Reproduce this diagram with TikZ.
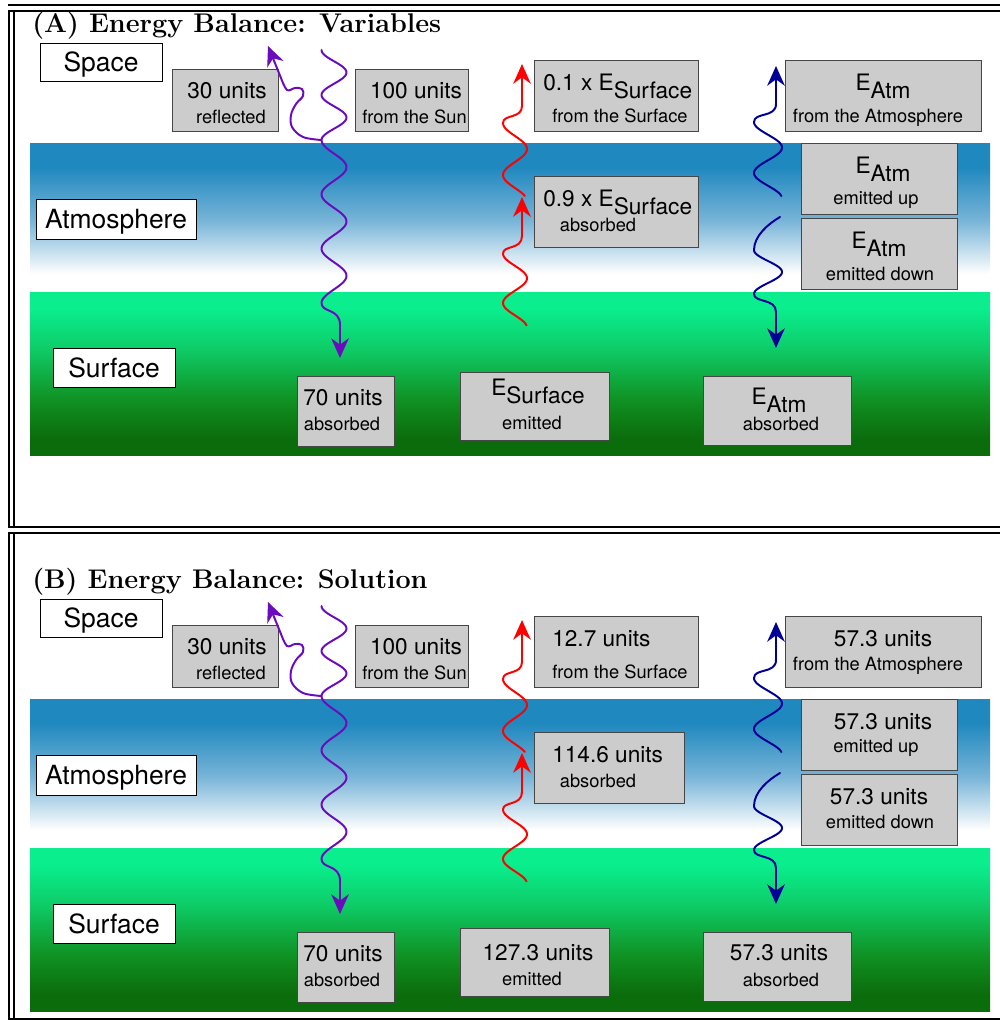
\documentclass[tikz,border=0pt]{standalone}
\usepackage{fontspec}
\newfontfamily\hv{TeX Gyre Heros}
\usetikzlibrary{arrows.meta}
\definecolor{atmtop}{RGB}{31,136,191}
\definecolor{atmmid}{RGB}{120,180,215}
\definecolor{gndtop}{RGB}{10,238,142}
\definecolor{gndhi}{RGB}{14,205,105}
\definecolor{gndlo}{RGB}{16,145,35}
\definecolor{gndbot}{RGB}{11,108,11}
\definecolor{boxgray}{RGB}{204,204,204}
\definecolor{boxedge}{RGB}{70,70,70}
\definecolor{sunray}{RGB}{106,12,190}
\definecolor{atmray}{RGB}{0,0,150}
\pgfdeclareverticalshading{atmo}{100bp}{color(0bp)=(white); color(31bp)=(white); color(49bp)=(atmmid); color(67bp)=(atmtop); color(100bp)=(atmtop)}
\pgfdeclareverticalshading{ground}{100bp}{color(0bp)=(gndbot); color(30bp)=(gndbot); color(42bp)=(gndlo); color(58bp)=(gndhi); color(70bp)=(gndtop); color(100bp)=(gndtop)}
\newcommand\Esub[1]{E\raisebox{-6pt}{#1}}
\tikzset{
  frame/.style={line width=1.2pt},
  ray/.style={line width=1.4pt, line cap=round, line join=round, -{Stealth[length=14pt,width=12.5pt,inset=4.5pt]}},
  namebox/.style 2 args={draw, fill=white, line width=0.7pt, inner sep=0pt, text depth=0pt,
    minimum width=#1*0.025cm, minimum height=#2*0.025cm, font=\hv\fontsize{18.8}{22}\selectfont},
  gbox/.style 2 args={draw=boxedge, fill=boxgray, line width=0.7pt, inner sep=0pt,
    minimum width=#1*0.025cm, minimum height=#2*0.025cm},
  big/.style={font=\hv\fontsize{16.1}{19}\selectfont, anchor=base, inner sep=0pt},
  small/.style={font=\hv\fontsize{13}{15}\selectfont, anchor=base, inner sep=0pt},
  ttl/.style={font=\fontsize{19.2}{22}\selectfont\bfseries, anchor=base west, inner sep=0pt}
}
\begin{document}
\begin{tikzpicture}[x=0.025cm,y=-0.025cm]
\useasboundingbox (0,0) rectangle (1000,1020);
% table frame
\foreach \y in {5,11,527,533,1019} \draw[frame] (8,\y) -- (1000,\y);
\foreach \x in {9,14} {
  \draw[frame] (\x,11) -- (\x,527);
  \draw[frame] (\x,533) -- (\x,1019);
}
\foreach \pn/\oy/\ttl/\bw/\lx/\ad/\eb/\sfup/\sfabs/\sfem/\atm in
  {A/0/{(A) Energy Balance: Variables}/164/543/0/395/{0.1 x \Esub{Surface}}/{0.9 x \Esub{Surface}}/{\Esub{Surface}}/{\Esub{Atm}},
   B/556/{(B) Energy Balance: Solution}/150/552/-8/404/{12.7 units}/{114.6 units}/{127.3 units}/{57.3 units}}{
\begin{scope}[shift={(0,\oy)}]
  \shade[shading=atmo] (30,143) rectangle (990,292);
  \shade[shading=ground] (30,292) rectangle (990,455);
  \node[ttl] (title\pn) at (32,32) {\ttl};
  % layers
  \node[namebox={122}{38}] (space\pn) at (101,62) {Space};
  \node[namebox={160}{40}] (atmos\pn) at (116,219) {Atmosphere};
  \node[namebox={122}{39}] (surf\pn) at (114,367.5) {Surface};
  % solar boxes
  \node[gbox={106}{62}] (refl\pn) at (225,100) {};
  \node[big] (refl\pn-a) at (227,98) {30 units};
  \node[small] (refl\pn-b) at (231,123) {reflected};
  \node[gbox={113}{62}] (sun\pn) at (411.5,100) {};
  \node[big] (sun\pn-a) at (416,98) {100 units};
  \node[small] (sun\pn-b) at (414.5,123) {from the Sun};
  \node[gbox={97}{70}] (abs\pn) at (345.5,411) {};
  \node[big] (abs\pn-a) at (343,405) {70 units};
  \node[small] (abs\pn-b) at (342,430) {absorbed};
  % surface boxes
  \node[gbox={164}{71}] (sfup\pn) at (616,95.5) {};
  \node[big,anchor=base west] (sfup\pn-a) at (\lx,90) {\sfup};
  \node[small] (sfup\pn-b) at (620,122) {from the Surface};
  \node[gbox={\bw}{71}] (sfabs\pn) at ({534+\bw/2},211.5) {};
  \node[big,anchor=base west] (sfabs\pn-a) at (\lx,206) {\sfabs};
  \node[small] (sfabs\pn-b) at (598,231) {absorbed};
  \node[gbox={149}{68}] (sfem\pn) at (534.5,406) {};
  \node[big] (sfem\pn-a) at (538,\eb) {\sfem};
  \node[small] (sfem\pn-b) at (532,429) {emitted};
  % atmosphere boxes
  \node[gbox={196}{71}] (atup\pn) at (883,95.5) {};
  \node[big] (atup\pn-a) at (883,90) {\atm};
  \node[small] (atup\pn-b) at (878,{122+\ad}) {from the Atmosphere};
  \node[gbox={156}{71}] (ateu\pn) at (879,178.5) {};
  \node[big] (ateu\pn-a) at (883,173) {\atm};
  \node[small] (ateu\pn-b) at (876,{204+\ad}) {emitted up};
  \node[gbox={156}{71}] (ated\pn) at (879,253.5) {};
  \node[big] (ated\pn-a) at (879,248) {\atm};
  \node[small] (ated\pn-b) at (880,{280+\ad}) {emitted down};
  \node[gbox={148}{69}] (atabs\pn) at (777,410.5) {};
  \node[big] (atabs\pn-a) at (779,404) {\atm};
  \node[small] (atabs\pn-b) at (781,430) {absorbed};
  % rays
  \coordinate (sunin\pn) at (321.5,50);
  \coordinate (sunjoin\pn) at (321.5,140);
  \coordinate (sunend\pn) at (340,358);
  \coordinate (refltip\pn) at (268,46);
  \draw[ray,sunray] (sunin\pn) -- plot[domain=0:2,samples=60] ({334-12.5*cos(360*\x)},{50+45*\x})
    -- plot[domain=2:5,samples=90] ({334-12.5*cos(360*\x)},{140+54.33*(\x-2)})
    .. controls (321.5,313) and (340,308) .. (340,325) -- (sunend\pn);
  \draw[ray,sunray] plot[smooth,tension=0.6] coordinates {(sunjoin\pn) (303,137) (292,127) (291,115)
    (296,104) (303,96) (302,89) (295,88) (287,90) (281,78)} -- (refltip\pn);
  \coordinate (irbot\pn) at (526.4,325.3);
  \coordinate (irmid\pn) at (522,197);
  \coordinate (irsplit\pn) at (524.7,195.8);
  \coordinate (irtop\pn) at (522,64);
  \draw[ray,red] (irbot\pn) -- plot[domain=-0.45:1,samples=80] ({515-12*cos(360*\x)},{303-49.5*\x})
    .. controls (503,245) and (522,250) .. (522,236) -- (irmid\pn);
  \draw[ray,red] (irsplit\pn) -- plot[domain=-0.4:1,samples=80] ({515-12*cos(360*\x)},{175-52*\x})
    .. controls (503,114) and (522,119) .. (522,106) -- (irtop\pn);
  \coordinate (atmlow\pn) at (781.3,196);
  \coordinate (atmtop\pn) at (776,66);
  \coordinate (atmdn\pn) at (780,217);
  \coordinate (atmbot\pn) at (776,348);
  \draw[ray,atmray] (atmlow\pn) -- plot[domain=-0.45:1,samples=80] ({768-14*cos(360*\x)},{173-51*\x})
    .. controls (754,112) and (776,118) .. (776,104) -- (atmtop\pn);
  \draw[ray,atmray] (atmdn\pn) .. controls (768,224) and (754,236) .. (754,250)
    -- plot[domain=0:1,samples=60] ({768-14*cos(360*\x)},{250+44*\x})
    .. controls (754,303) and (776,298) .. (776,312) -- (atmbot\pn);
\end{scope}
}
\end{tikzpicture}
\end{document}
